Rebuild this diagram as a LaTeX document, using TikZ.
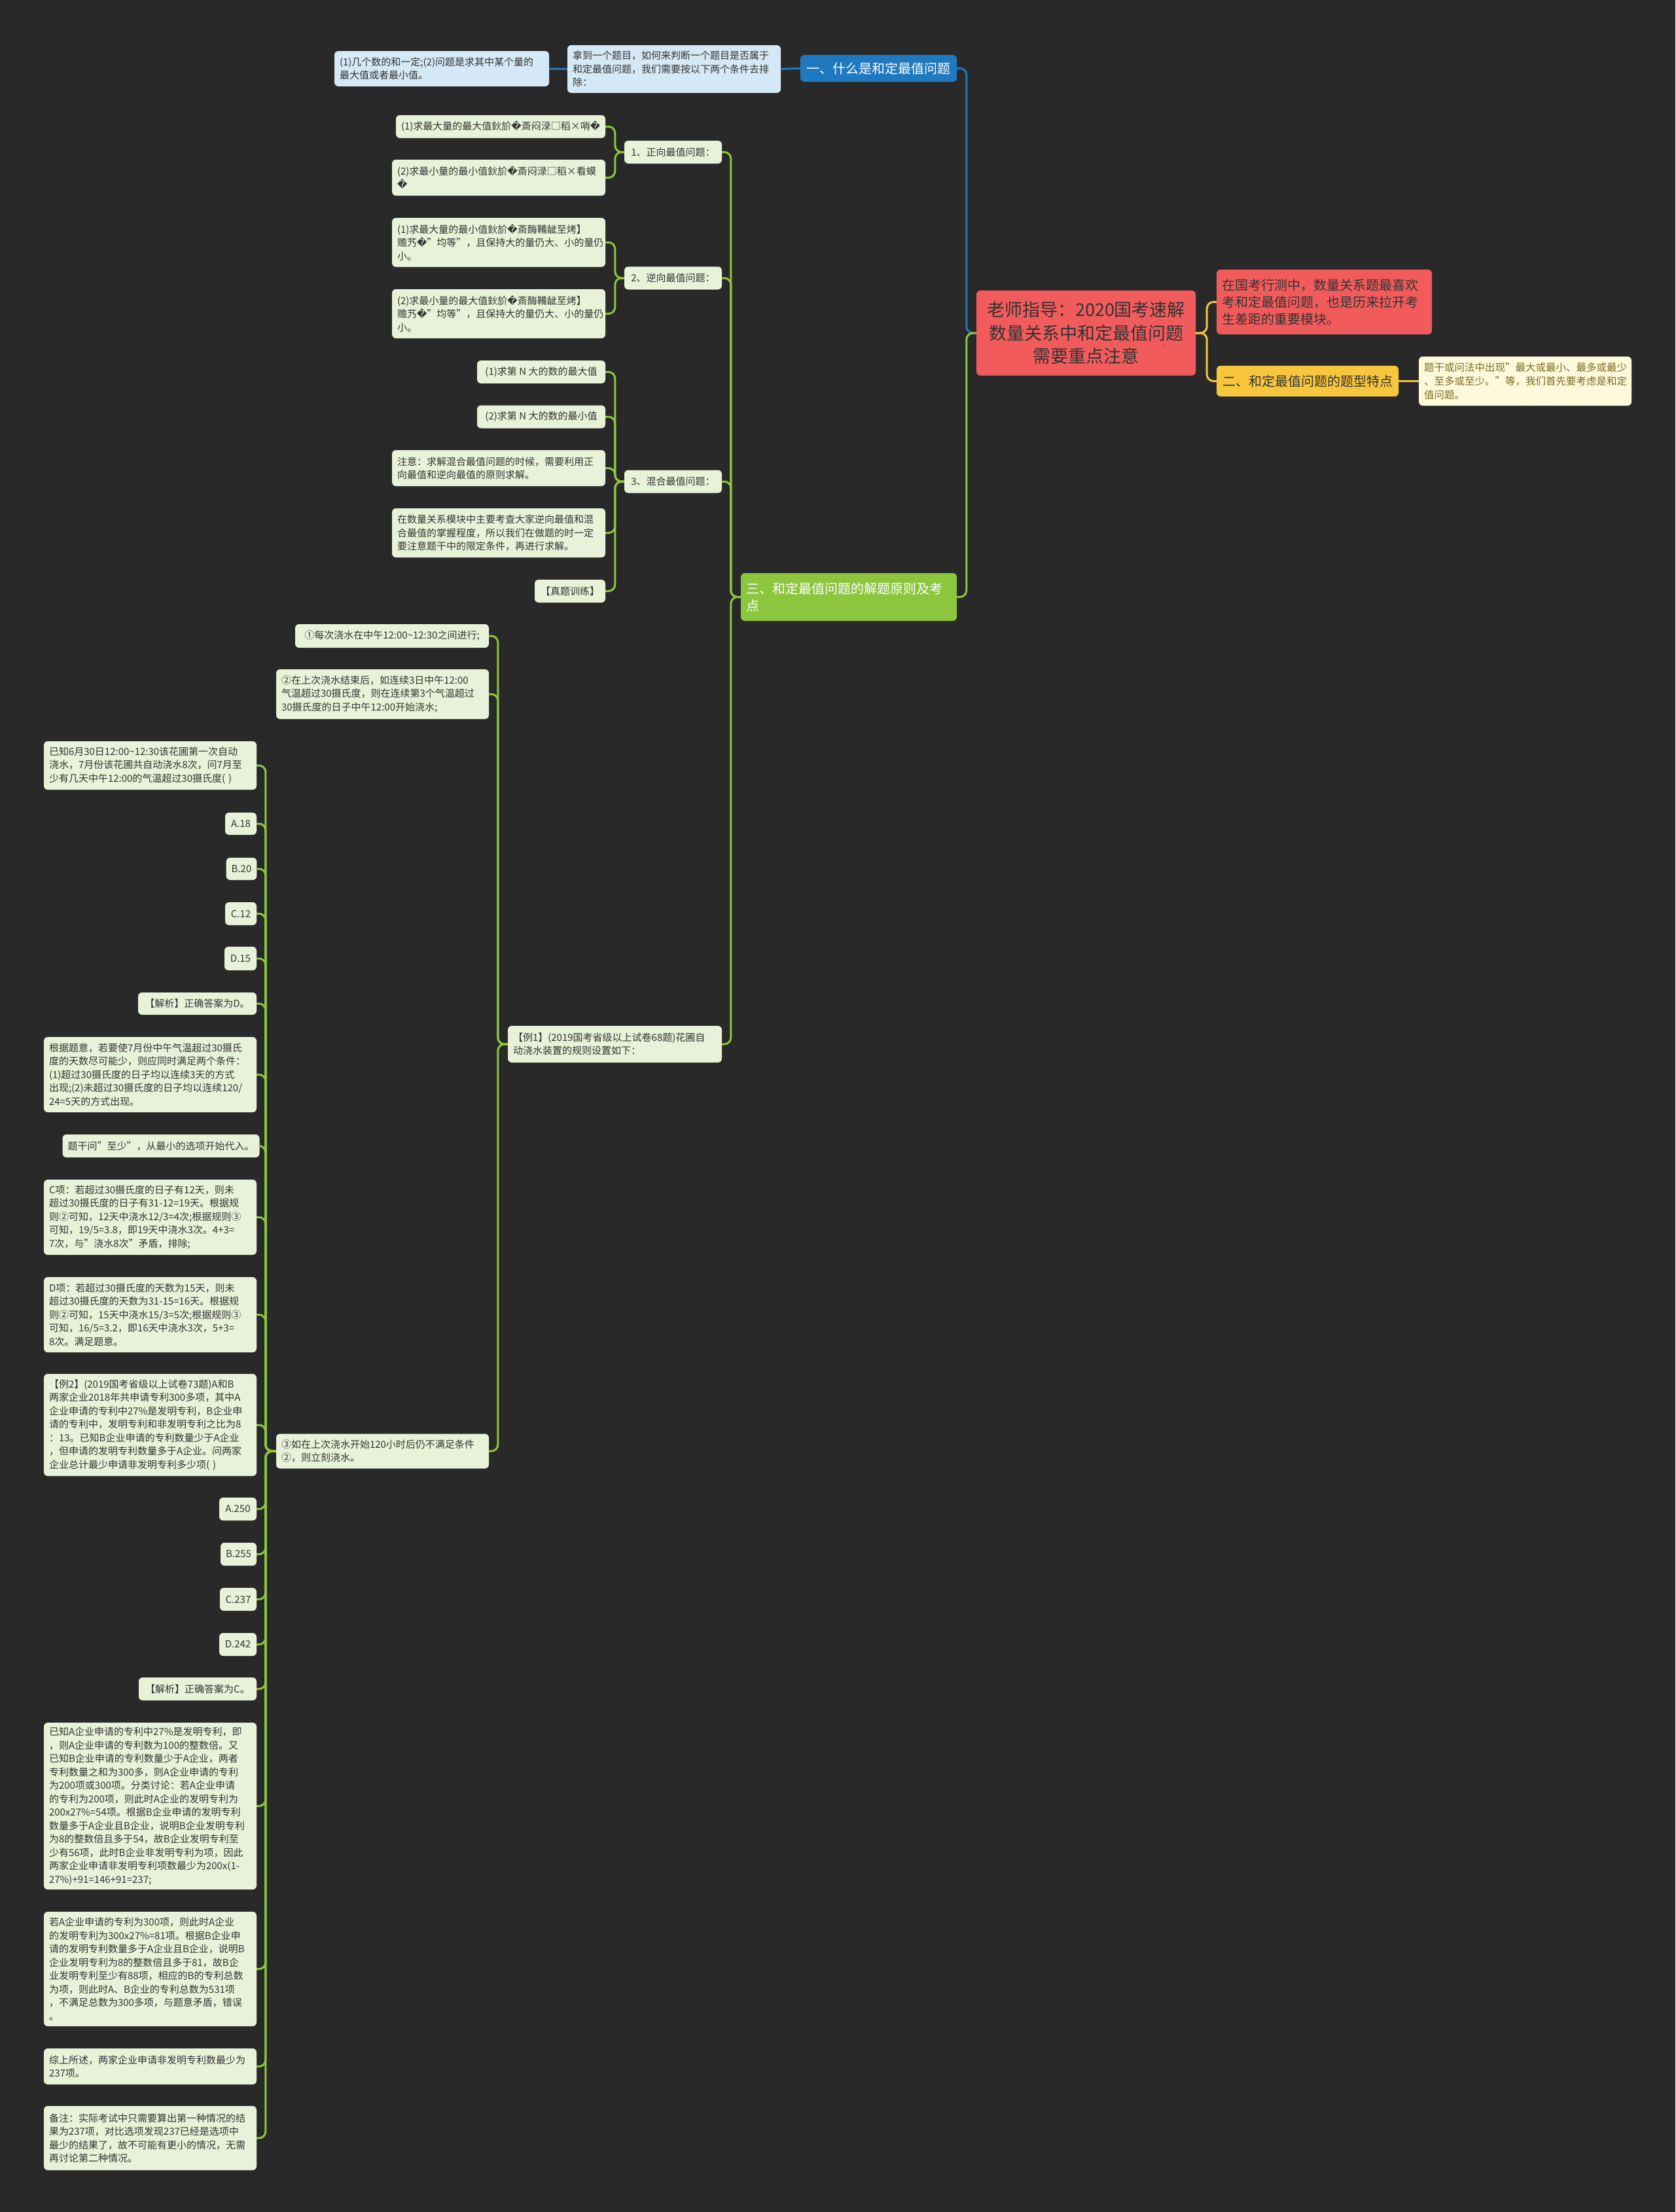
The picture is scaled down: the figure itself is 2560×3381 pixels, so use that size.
\documentclass[tikz,border=0pt]{standalone}
\usepackage{fontspec}
\setmainfont{Noto Sans CJK SC}
\newfontfamily\dvs{DejaVu Sans}
\newcommand\rpc{{\dvs\symbol{"FFFD}}}
\definecolor{bgc}{HTML}{292929}
\definecolor{leafc}{HTML}{E8F2D8}
\definecolor{txt}{HTML}{333333}
\definecolor{gline}{HTML}{8CC63F}
\definecolor{bline}{HTML}{1F79C0}
\definecolor{bleaf}{HTML}{D5E8F5}
\definecolor{redc}{HTML}{F25B5B}
\definecolor{yelc}{HTML}{F8C63C}
\definecolor{creamc}{HTML}{FFF9DC}
\definecolor{creamt}{HTML}{7A6A22}
\begin{document}
\begin{tikzpicture}[x=1pt,y=-1pt,
  base/.style={rounded corners=6pt, inner xsep=8pt, inner ysep=3pt, align=left, text=txt,
    font=\fontsize{15pt}{20.5pt}\selectfont},
  leaf/.style={base, fill=leafc},
  wl/.style={leaf, text width=#1},
  sl/.style={leaf, align=center, minimum width=#1, minimum height=35pt},
  bleafs/.style={base, fill=bleaf, text width=#1},
  gl/.style={draw=gline, line width=3pt, rounded corners=10pt},
  bl/.style={draw=bline, line width=3pt, rounded corners=10pt},
  yl/.style={draw=yelc, line width=3pt, rounded corners=10pt},
]
\fill[bgc] (0,0) rectangle (2560,3381);
\useasboundingbox (0,0) rectangle (2560,3381);

% root and right side
\node[base, fill=redc, align=center, text width=319pt, minimum height=130pt,
  font=\fontsize{27pt}{35.6pt}\selectfont] (root) at (1659.5,509)
  {老师指导：2020国考速解\\数量关系中和定最值问题\\需要重点注意};
\node[base, fill=redc, text width=313pt, minimum height=99pt,
  font=\fontsize{20pt}{26pt}\selectfont] (red) at (2023.5,461.5)
  {在国考行测中，数量关系题最喜欢\\考和定最值问题，也是历来拉开考\\生差距的重要模块。};
\node[base, fill=yelc, align=center, minimum width=278pt, minimum height=47pt,
  font=\fontsize{20pt}{26pt}\selectfont] (yel) at (1998,582.5)
  {二、和定最值问题的题型特点};
\node[base, fill=creamc, text=creamt, text width=309pt, minimum height=75pt,
  font=\fontsize{15.5pt}{21pt}\selectfont] (cream) at (2330.5,582.5)
  {题干或问法中出现"最大或最小、最多或最少\\、至多或至少。"等，我们首先要考虑是和定\\值问题。};

% top blue branch
\node[base, fill=bline, text=white, align=center, minimum width=239pt, minimum height=41pt,
  font=\fontsize{20pt}{26pt}\selectfont] (n1) at (1342.5,104.5) {一、什么是和定最值问题};
\node[bleafs=310pt, minimum height=73pt] (nb) at (1030,105.5)
  {拿到一个题目，如何来判断一个题目是否属于\\和定最值问题，我们需要按以下两个条件去排\\除：};
\node[bleafs=312pt, minimum height=54pt] (na) at (675,105)
  {(1)几个数的和一定;(2)问题是求其中某个量的\\最大值或者最小值。};

% green branch
\node[base, fill=gline, text=white, text width=314pt, minimum height=73pt,
  font=\fontsize{20pt}{26pt}\selectfont] (n3) at (1297,912.5)
  {三、和定最值问题的解题原则及考\\点};

\node[sl=149pt] (L1) at (1028.5,232.5) {1、正向最值问题：};
\node[sl=149pt] (L2) at (1028.5,425) {2、逆向最值问题：};
\node[sl=149pt] (L3) at (1028.5,736) {3、混合最值问题：};
\node[wl=311pt, minimum height=56pt] (ex1) at (939.5,1596)
  {【例1】(2019国考省级以上试卷68题)花圃自\\动浇水装置的规则设置如下：};

\node[wl=304pt, minimum height=35pt] (a1) at (765,193.5)
  {(1)求最大量的最大值鈥斺\rpc 斎闷渌□稻×哨\rpc};
\node[wl=310pt, minimum height=55pt] (a2) at (762,271.5)
  {(2)求最小量的最小值鈥斺\rpc 斎闷渌□稻×看蟆\\\rpc};
\node[wl=310pt, minimum height=75pt] (b1) at (762,370.5)
  {(1)求最大量的最小值鈥斺\rpc 斎酶鞴龇至烤】\\赡艿\rpc"均等"，且保持大的量仍大、小的量仍\\小。};
\node[wl=310pt, minimum height=75pt] (b2) at (762,479.5)
  {(2)求最小量的最大值鈥斺\rpc 斎酶鞴龇至烤】\\赡艿\rpc"均等"，且保持大的量仍大、小的量仍\\小。};

\node[sl=196pt] (c1) at (827,568.5) {(1)求第 N 大的数的最大值};
\node[sl=196pt] (c2) at (827,637) {(2)求第 N 大的数的最小值};
\node[wl=310pt, minimum height=55pt] (c3) at (762,715.5)
  {注意：求解混合最值问题的时候，需要利用正\\向最值和逆向最值的原则求解。};
\node[wl=310pt, minimum height=75pt] (c4) at (762,814.5)
  {在数量关系模块中主要考查大家逆向最值和混\\合最值的掌握程度，所以我们在做题的时一定\\要注意题干中的限定条件，再进行求解。};
\node[sl=108pt] (c5) at (871,903.5) {【真题训练】};

\node[sl=296pt, minimum height=36pt] (r1) at (599,972)
  {①每次浇水在中午12:00\textasciitilde 12:30之间进行;};
\node[wl=309pt, minimum height=76pt] (r2) at (584.5,1061)
  {②在上次浇水结束后，如连续3日中午12:00\\气温超过30摄氏度，则在连续第3个气温超过\\30摄氏度的日子中午12:00开始浇水;};
\node[wl=309pt, minimum height=53pt] (r3) at (584.5,2218)
  {③如在上次浇水开始120小时后仍不满足条件\\②，则立刻浇水。};

% left column
\node[wl=309pt, minimum height=74pt] (d1) at (229.5,1170)
  {已知6月30日12:00\textasciitilde 12:30该花圃第一次自动\\浇水，7月份该花圃共自动浇水8次，问7月至\\少有几天中午12:00的气温超过30摄氏度( )};
\node[sl=48pt, minimum height=34pt] (d2) at (368,1259) {A.18};
\node[sl=46pt, minimum height=34pt] (d3) at (369,1328) {B.20};
\node[sl=48pt, minimum height=35pt] (d4) at (368,1396.5) {C.12};
\node[sl=49pt, minimum height=36pt] (d5) at (367.5,1465) {D.15};
\node[sl=181pt, minimum height=34pt] (d6) at (301.5,1534) {【解析】正确答案为D。};
\node[wl=309pt, minimum height=115pt] (d7) at (229.5,1642.5)
  {根据题意，若要使7月份中午气温超过30摄氏\\度的天数尽可能少，则应同时满足两个条件：\\(1)超过30摄氏度的日子均以连续3天的方式\\出现;(2)未超过30摄氏度的日子均以连续120/\\24=5天的方式出现。};
\node[sl=292pt, minimum height=35pt] (d8) at (246,1751.5) {题干问"至少"，从最小的选项开始代入。};
\node[wl=309pt, minimum height=115pt] (d9) at (229.5,1860.5)
  {C项：若超过30摄氏度的日子有12天，则未\\超过30摄氏度的日子有31-12=19天。根据规\\则②可知，12天中浇水12/3=4次;根据规则③\\可知，19/5=3.8，即19天中浇水3次。4+3=\\7次，与"浇水8次"矛盾，排除;};
\node[wl=309pt, minimum height=115pt] (d10) at (229.5,2009.5)
  {D项：若超过30摄氏度的天数为15天，则未\\超过30摄氏度的天数为31-15=16天。根据规\\则②可知，15天中浇水15/3=5次;根据规则③\\可知，16/5=3.2，即16天中浇水3次，5+3=\\8次。满足题意。};
\node[wl=309pt, minimum height=156pt] (d11) at (229.5,2178)
  {【例2】(2019国考省级以上试卷73题)A和B\\两家企业2018年共申请专利300多项，其中A\\企业申请的专利中27\%是发明专利，B企业申\\请的专利中，发明专利和非发明专利之比为8\\：13。已知B企业申请的专利数量少于A企业\\，但申请的发明专利数量多于A企业。问两家\\企业总计最少申请非发明专利多少项( )};
\node[sl=57pt, minimum height=35pt] (d12) at (363.5,2306.5) {A.250};
\node[sl=55pt, minimum height=35pt] (d13) at (364.5,2375.5) {B.255};
\node[sl=56pt, minimum height=35pt] (d14) at (364,2444.5) {C.237};
\node[sl=57pt, minimum height=35pt] (d15) at (363.5,2513.5) {D.242};
\node[sl=180pt, minimum height=35pt] (d16) at (302,2581.5) {【解析】正确答案为C。};
\node[wl=309pt, minimum height=255pt] (d17) at (229.5,2760.5)
  {已知A企业申请的专利中27\%是发明专利，即\\，则A企业申请的专利数为100的整数倍。又\\已知B企业申请的专利数量少于A企业，两者\\专利数量之和为300多，则A企业申请的专利\\为200项或300项。分类讨论：若A企业申请\\的专利为200项，则此时A企业的发明专利为\\200x27\%=54项。根据B企业申请的发明专利\\数量多于A企业且B企业，说明B企业发明专利\\为8的整数倍且多于54，故B企业发明专利至\\少有56项，此时B企业非发明专利为项，因此\\两家企业申请非发明专利项数最少为200x(1-\\27\%)+91=146+91=237;};
\node[wl=309pt, minimum height=175pt] (d18) at (229.5,3009.5)
  {若A企业申请的专利为300项，则此时A企业\\的发明专利为300x27\%=81项。根据B企业申\\请的发明专利数量多于A企业且B企业，说明B\\企业发明专利为8的整数倍且多于81，故B企\\业发明专利至少有88项，相应的B的专利总数\\为项，则此时A、B企业的专利总数为531项\\，不满足总数为300多项，与题意矛盾，错误\\。};
\node[wl=309pt, minimum height=55pt] (d19) at (229.5,3158.5)
  {综上所述，两家企业申请非发明专利数最少为\\237项。};
\node[wl=309pt, minimum height=98pt] (d20) at (229.5,3268)
  {备注：实际考试中只需要算出第一种情况的结\\果为237项，对比选项发现237已经是选项中\\最少的结果了，故不可能有更小的情况，无需\\再讨论第二种情况。};

% connectors
\draw[bl] (root.west) -- ++(-15,0) |- (n1.east);
\draw[gl] (root.west) -- ++(-15,0) |- (n3.east);
\draw[bl] (n1.west) -- (nb.east);
\draw[bl] (nb.west) -- (na.east);
\draw[yl] (root.east) -- ++(17,0) |- (red.west);
\draw[yl] (root.east) -- ++(17,0) |- (yel.west);
\draw[yl] (yel.east) -- (cream.west);

\foreach \c in {L1,L2,L3,ex1} \draw[gl] (n3.west) -- ++(-15,0) |- (\c.east);
\foreach \c in {a1,a2} \draw[gl] (L1.west) -- ++(-14,0) |- (\c.east);
\foreach \c in {b1,b2} \draw[gl] (L2.west) -- ++(-14,0) |- (\c.east);
\foreach \c in {c1,c2,c3,c4,c5} \draw[gl] (L3.west) -- ++(-14,0) |- (\c.east);
\foreach \c in {r1,r2,r3} \draw[gl] (ex1.west) -- ++(-15,0) |- (\c.east);
\foreach \c in {d1,d2,d3,d4,d5,d6,d7,d8,d9,d10,d11,d12,d13,d14,d15,d16,d17,d18,d19,d20}
  \draw[gl] (r3.west) -- ++(-16,0) |- (\c.east);
\end{tikzpicture}
\end{document}
